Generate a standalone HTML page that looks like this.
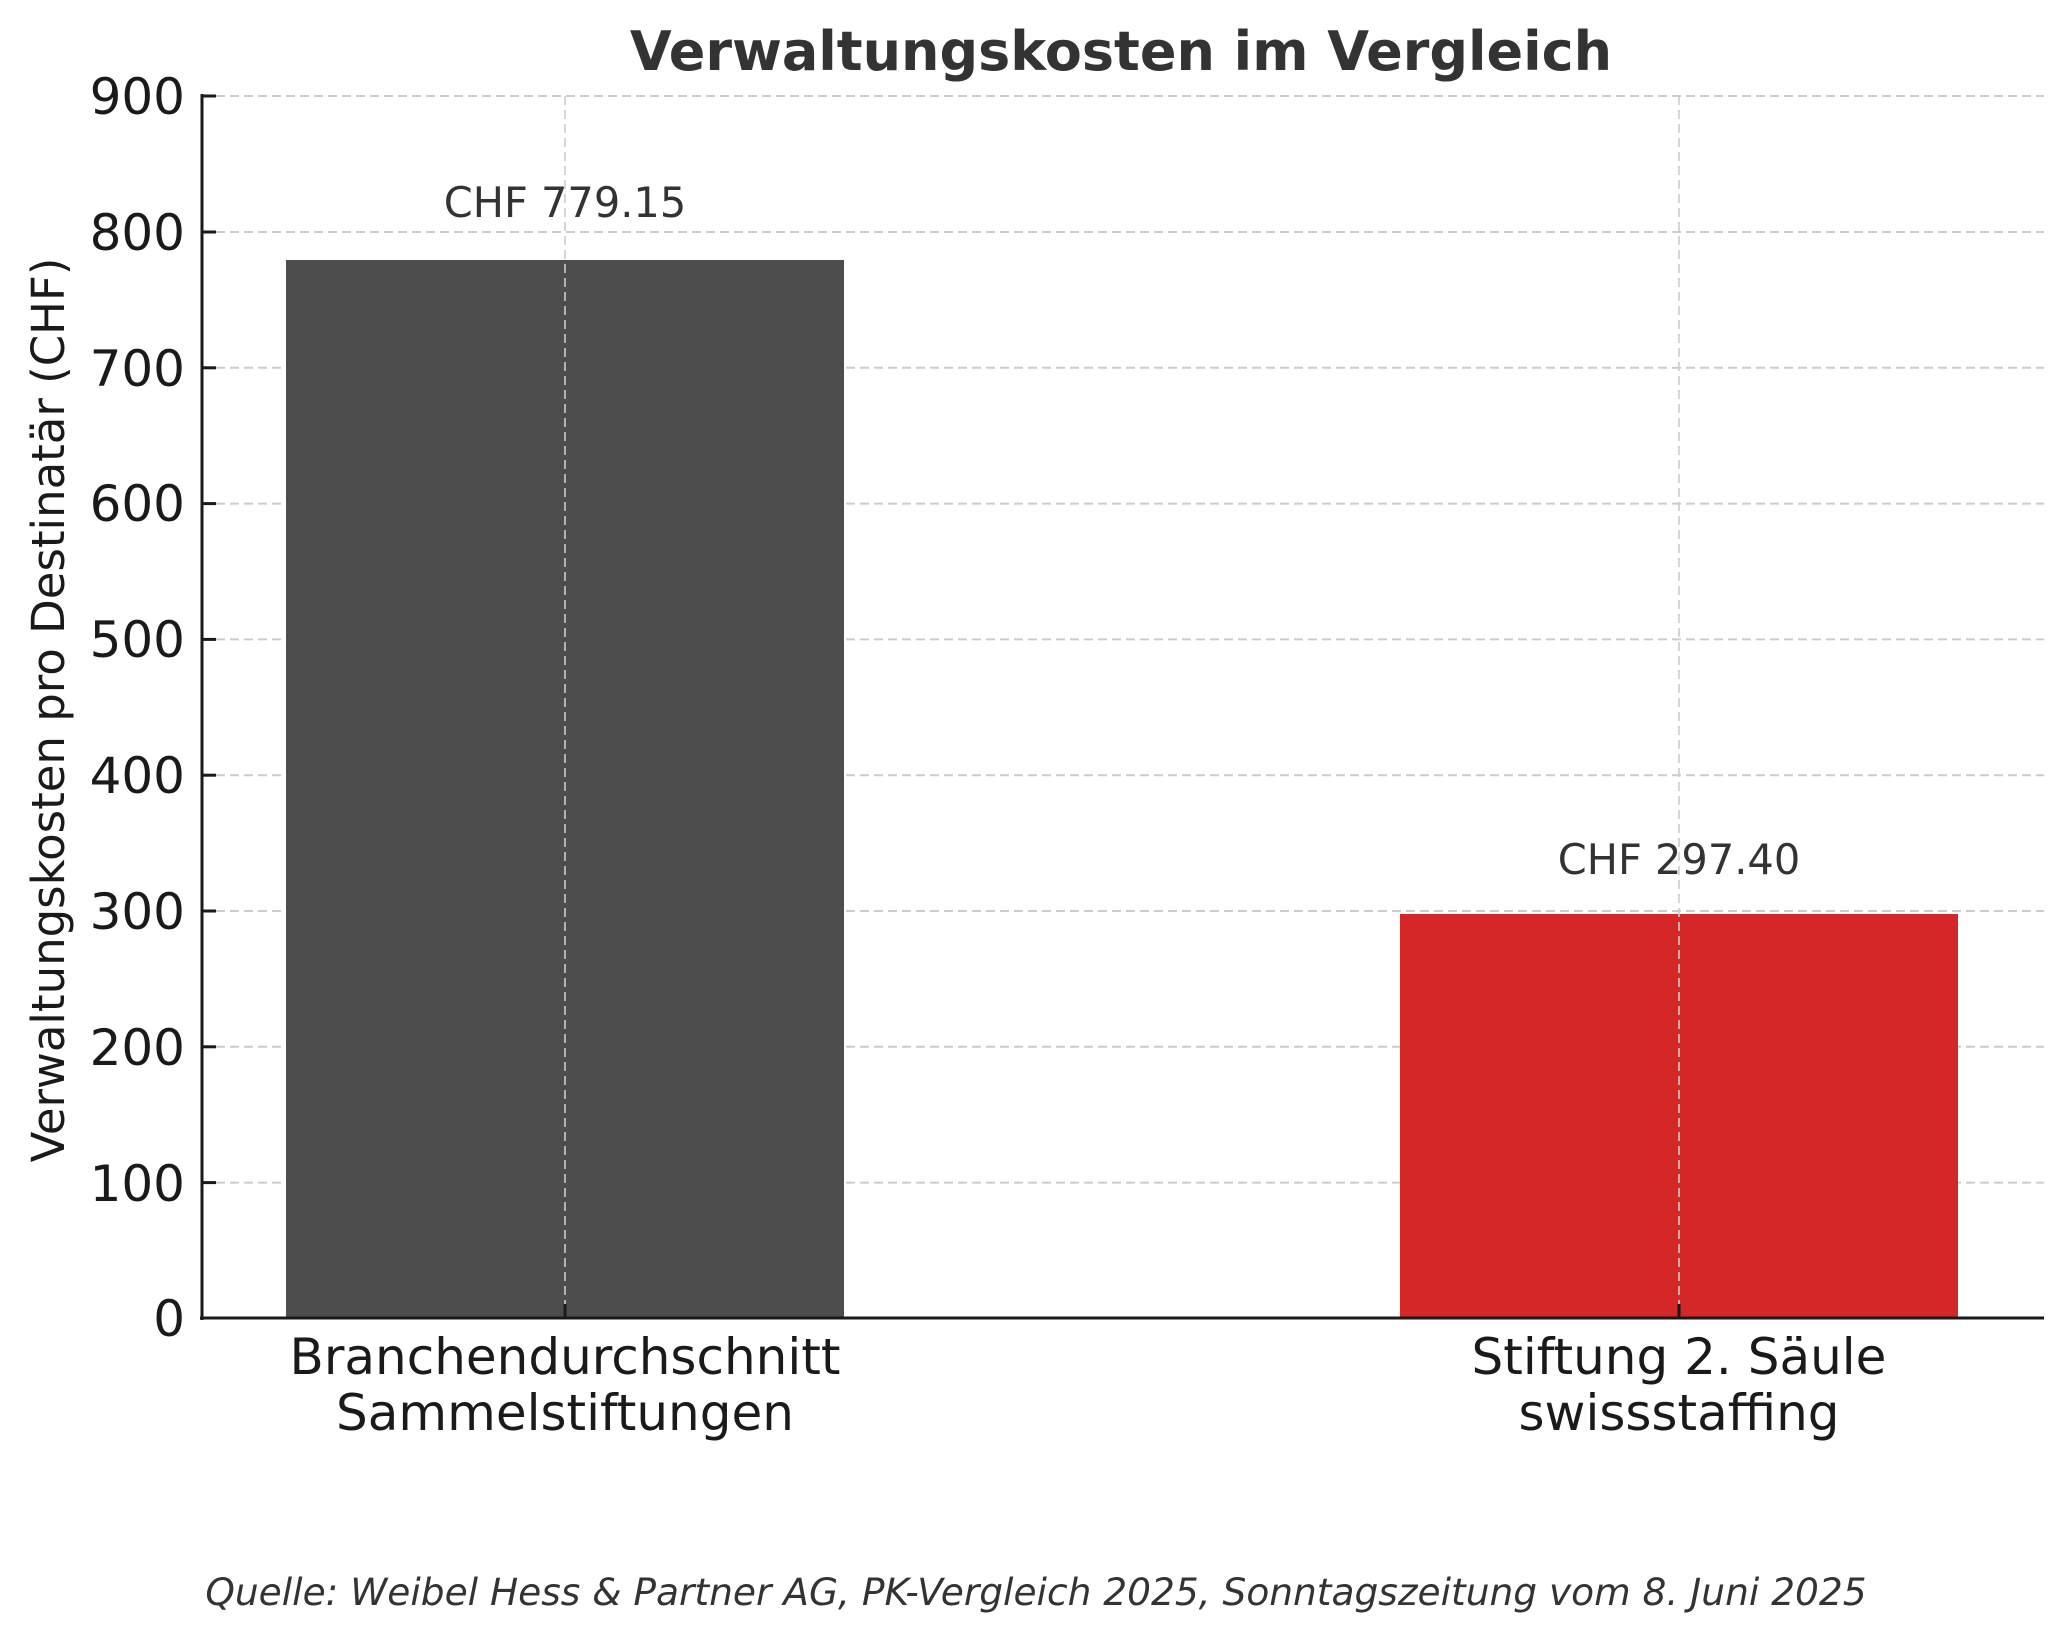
<!DOCTYPE html>
<html><head><meta charset="utf-8"><style>body{margin:0;background:#fff}svg{display:block}</style></head><body>
<svg width="2071" height="1643" viewBox="0 0 2071 1643" xmlns="http://www.w3.org/2000/svg" font-family="DejaVu Sans, Liberation Sans, sans-serif">
<rect width="2071" height="1643" fill="#fff"/>
<g stroke="#cccccc" stroke-width="2" stroke-dasharray="9,5">
<line x1="202" x2="2044" y1="96" y2="96"/>
<line x1="202" x2="2044" y1="232" y2="232"/>
<line x1="202" x2="2044" y1="367.8" y2="367.8"/>
<line x1="202" x2="2044" y1="503.6" y2="503.6"/>
<line x1="202" x2="2044" y1="639.4" y2="639.4"/>
<line x1="202" x2="2044" y1="775.2" y2="775.2"/>
<line x1="202" x2="2044" y1="911" y2="911"/>
<line x1="202" x2="2044" y1="1046.8" y2="1046.8"/>
<line x1="202" x2="2044" y1="1182.6" y2="1182.6"/>
</g>
<rect x="286" y="260" width="558" height="1058" fill="#4d4d4d"/>
<rect x="1400" y="914" width="558" height="404" fill="#d62728"/>
<g stroke="#cccccc" stroke-width="2" stroke-dasharray="9,5" opacity="0.8">
<line x1="565" x2="565" y1="96" y2="1318"/>
<line x1="1679" x2="1679" y1="96" y2="1318"/>
</g>
<g stroke="#1a1a1a" stroke-width="3">
<line x1="202" x2="202" y1="94" y2="1320"/>
<line x1="200" x2="2044" y1="1318" y2="1318"/>
<line x1="202" x2="216" y1="96" y2="96"/><line x1="202" x2="216" y1="232" y2="232"/>
<line x1="202" x2="216" y1="367.8" y2="367.8"/><line x1="202" x2="216" y1="503.6" y2="503.6"/>
<line x1="202" x2="216" y1="639.4" y2="639.4"/><line x1="202" x2="216" y1="775.2" y2="775.2"/>
<line x1="202" x2="216" y1="911" y2="911"/><line x1="202" x2="216" y1="1046.8" y2="1046.8"/>
<line x1="202" x2="216" y1="1182.6" y2="1182.6"/>
<line x1="565" x2="565" y1="1304" y2="1318"/><line x1="1679" x2="1679" y1="1304" y2="1318"/>
</g>
<g font-size="50" fill="#1a1a1a" text-anchor="end">
<text x="185" y="114">900</text><text x="185" y="250">800</text><text x="185" y="386">700</text>
<text x="185" y="521">600</text><text x="185" y="657">500</text><text x="185" y="793">400</text>
<text x="185" y="929">300</text><text x="185" y="1065">200</text><text x="185" y="1201">100</text>
<text x="185" y="1336">0</text>
</g>
<text x="1121" y="70" font-size="54" font-weight="bold" fill="#333" text-anchor="middle">Verwaltungskosten im Vergleich</text>
<g font-size="41.5" fill="#333" text-anchor="middle">
<text x="565" y="217">CHF 779.15</text>
<text x="1679" y="874">CHF 297.40</text>
</g>
<g font-size="50" fill="#1a1a1a" text-anchor="middle">
<text x="565" y="1374">Branchendurchschnitt</text>
<text x="565" y="1430">Sammelstiftungen</text>
<text x="1679" y="1374">Stiftung 2. Säule</text>
<text x="1679" y="1430">swissstaffing</text>
</g>
<text transform="translate(64,710) rotate(-90)" font-size="45" fill="#1a1a1a" text-anchor="middle">Verwaltungskosten pro Destinatär (CHF)</text>
<text x="1036" y="1605" font-size="37.5" font-style="italic" fill="#333" text-anchor="middle">Quelle: Weibel Hess &amp; Partner AG, PK-Vergleich 2025, Sonntagszeitung vom 8. Juni 2025</text>
</svg>
</body></html>
